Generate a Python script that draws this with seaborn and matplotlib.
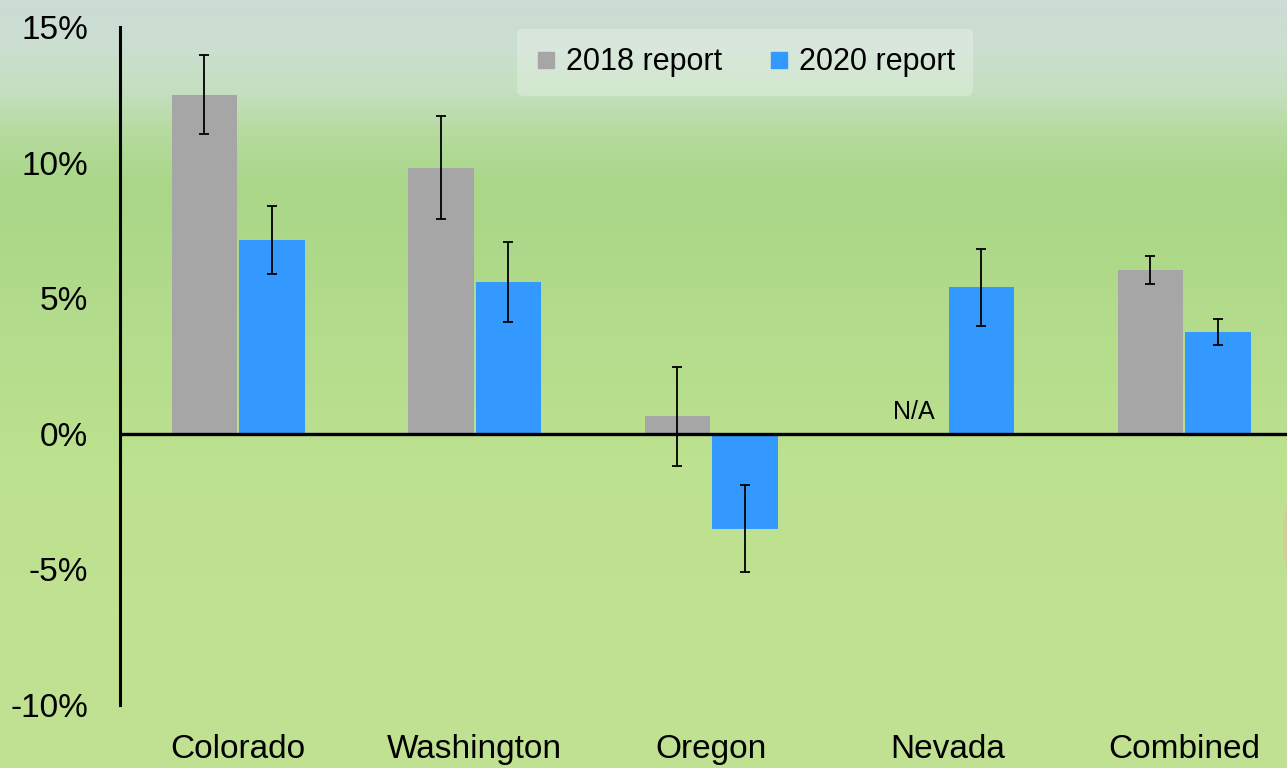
import matplotlib
matplotlib.use('Agg')
import matplotlib.pyplot as plt
import numpy as np
import pandas as pd
import seaborn as sns
from matplotlib.colors import LinearSegmentedColormap
from matplotlib.lines import Line2D
from matplotlib.patches import Ellipse

# Values (percent)
states = ['Colorado', 'Washington', 'Oregon', 'Nevada', 'Combined']
reports = ['2018 report', '2020 report']
val_2018 = [12.5, 9.8, 0.65, np.nan, 6.05]
err_2018 = [1.45, 1.9, 1.82, np.nan, 0.52]
val_2020 = [7.15, 5.6, -3.5, 5.4, 3.75]
err_2020 = [1.25, 1.47, 1.6, 1.42, 0.47]
yticks = [-10, -5, 0, 5, 10, 15]
ytick_labels = ['-10%', '-5%', '0%', '5%', '10%', '15%']

df = pd.DataFrame({
    'state': states * 2,
    'report': [reports[0]] * 5 + [reports[1]] * 5,
    'value': val_2018 + val_2020,
})
errs = {reports[0]: err_2018, reports[1]: err_2020}
colors = {reports[0]: '#a6a6a6', reports[1]: '#3399ff'}

sns.set_style('white')
plt.rcParams['font.family'] = ['Liberation Sans', 'DejaVu Sans']
plt.rcParams['text.color'] = 'black'
plt.rcParams['xtick.color'] = 'black'
plt.rcParams['ytick.color'] = 'black'

fig = plt.figure(figsize=(12.87, 7.68), dpi=100)

# photo-like green gradient background
bg = fig.add_axes([0, 0, 1, 1], zorder=-10)
grad = LinearSegmentedColormap.from_list('bg', [
    (0.0, '#cddcd5'), (0.06, '#cbdfd0'), (0.12, '#c4dfbe'),
    (0.17, '#b5db9e'), (0.24, '#a9d687'), (0.40, '#b2db8b'),
    (0.60, '#bce18f'), (0.80, '#c0e292'), (1.0, '#bfe191')])
bg.imshow(np.linspace(0, 1, 256).reshape(-1, 1), aspect='auto', cmap=grad,
          extent=[0, 1, 0, 1], origin='upper')
bg.add_patch(Ellipse((1.008, 0.30), 0.022, 0.13, facecolor='#d8c69c',
                     edgecolor='none', alpha=0.7))
bg.set_xlim(0, 1)
bg.set_ylim(0, 1)
bg.axis('off')

ax = fig.add_axes([0.0932, 0.082, 0.9068, 0.883])
ax.set_facecolor('none')

sns.barplot(data=df, x='state', y='value', hue='report', order=states,
            hue_order=reports, palette=colors, saturation=1, width=0.57,
            gap=0.03, errorbar=None, legend=False, edgecolor='none',
            linewidth=0, ax=ax)

for cont, rep in zip(ax.containers, reports):
    for bar in cont:
        h = bar.get_height()
        if np.isnan(h):
            continue
        xc = bar.get_x() + bar.get_width() / 2
        i = int(round(xc))
        ax.errorbar(xc, h, yerr=errs[rep][i], fmt='none', ecolor='black',
                    elinewidth=1.3, capsize=3.8, capthick=1.3, zorder=5)

ax.text(3 - 0.57 / 4, 0.35, 'N/A', ha='center', va='bottom', fontsize=18)

ax.axhline(0, color='black', lw=2.4, zorder=6)
ax.set_xlim(-0.5, 4.435)
ax.set_ylim(-10, 15)
ax.set_yticks(yticks)
ax.set_yticklabels(ytick_labels)
ax.tick_params(axis='y', length=0, pad=23, labelsize=24)
ax.tick_params(axis='x', length=0, pad=21, labelsize=24)
ax.set_xlabel('')
ax.set_ylabel('')
for s in ['top', 'right', 'bottom']:
    ax.spines[s].set_visible(False)
ax.spines['left'].set_color('black')
ax.spines['left'].set_linewidth(2.2)

handles = [Line2D([], [], marker='s', linestyle='', markersize=11,
                  markerfacecolor=colors[r], markeredgecolor=colors[r]) for r in reports]
leg = fig.legend(handles, reports, loc='center', bbox_to_anchor=(0.579, 0.919),
                 ncol=2, fontsize=22, frameon=True, handlelength=0.7,
                 handletextpad=0.3, columnspacing=1.5, borderpad=0.6)
leg.get_frame().set_facecolor('white')
leg.get_frame().set_alpha(0.25)
leg.get_frame().set_edgecolor('none')

fig.savefig('out.png', dpi=100)
